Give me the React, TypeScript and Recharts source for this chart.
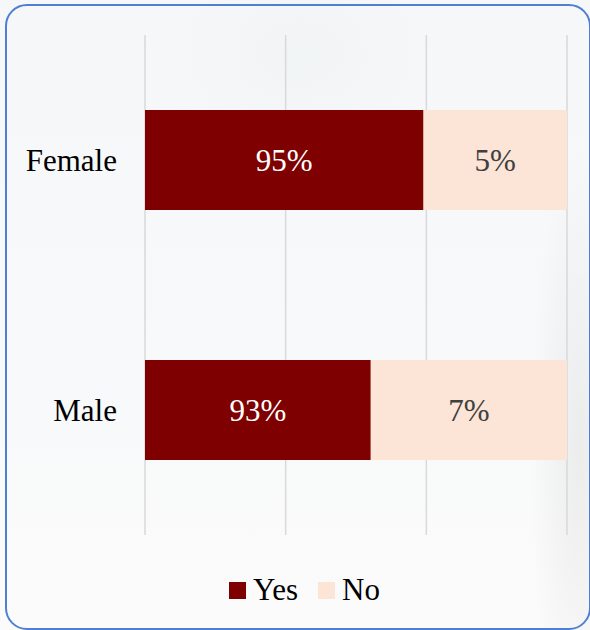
import React from 'react';
import { BarChart, Bar, XAxis, YAxis, CartesianGrid, LabelList } from 'recharts';

// categories and values (bar lengths, labels as printed)
const categories = ['Female', 'Male'];
const yesShare = [0.66, 0.535];
const noShare = [0.34, 0.465];
const yesLabels = ['95%', '93%'];
const noLabels = ['5%', '7%'];
const gridTicks = [0, 0.3333, 0.6667, 1];

const YES_COLOR = '#7F0000';
const NO_COLOR = '#FCE4D6';
const FONT = '"Liberation Serif", "Times New Roman", serif';

const chartData = categories.map((name, i) => ({
  name,
  yes: yesShare[i],
  no: noShare[i],
  yesLabel: yesLabels[i],
  noLabel: noLabels[i],
}));

function LegendBox() {
  const items = [
    { label: 'Yes', color: YES_COLOR },
    { label: 'No', color: NO_COLOR },
  ];
  return (
    <div
      style={{
        position: 'absolute',
        top: 573,
        left: 229,
        display: 'flex',
        alignItems: 'center',
        fontFamily: FONT,
      }}
    >
      {items.map((it, i) => (
        <div key={it.label} style={{ display: 'flex', alignItems: 'center', marginRight: i === 0 ? 20 : 0 }}>
          <span style={{ display: 'inline-block', width: 17, height: 17, background: it.color, marginRight: 7 }} />
          <span style={{ fontSize: 31, color: '#000', lineHeight: '34px' }}>{it.label}</span>
        </div>
      ))}
    </div>
  );
}

export default function App() {
  return (
    <div
      style={{
        position: 'absolute',
        left: 0,
        top: 0,
        width: 590,
        height: 630,
        overflow: 'hidden',
        background:
          'radial-gradient(ellipse 50px 300px at 580px 450px, rgba(205,205,205,0.3), rgba(255,255,255,0) 100%), ' +
          'radial-gradient(ellipse 140px 110px at 300px 60px, rgba(225,232,228,0.2), rgba(255,255,255,0) 100%), ' +
          'linear-gradient(180deg, #f5f7f9 0%, #f8f9fa 60%, #fbfbfb 100%)',
      }}
    >
      <div
        style={{
          position: 'absolute',
          left: 5,
          top: 4,
          width: 586,
          height: 626,
          border: '2px solid #4f7fd2',
          borderRadius: 22,
          boxSizing: 'border-box',
        }}
      />
      <div style={{ position: 'absolute', left: 0, top: 0 }}>
        <BarChart
          width={590}
          height={630}
          data={chartData}
          layout="vertical"
          margin={{ top: 35, right: 23, bottom: 95, left: 0 }}
          barCategoryGap="30%"
        >
          <CartesianGrid horizontal={false} stroke="#d9d9d9" strokeWidth={1.5} />
          <XAxis
            type="number"
            domain={[0, 1]}
            ticks={gridTicks}
            height={0}
            tick={{ fontSize: 1, fill: 'none' }}
            axisLine={false}
            tickLine={false}
            interval={0}
          />
          <YAxis
            type="category"
            dataKey="name"
            width={145}
            axisLine={false}
            tickLine={false}
            tickSize={0}
            tickMargin={28}
            tick={{ fill: '#000', fontSize: 31, fontFamily: FONT }}
          />
          <Bar dataKey="yes" stackId="a" fill={YES_COLOR} isAnimationActive={false}>
            <LabelList dataKey="yesLabel" position="center" fill="#fff" fontSize={31} fontFamily={FONT} />
          </Bar>
          <Bar dataKey="no" stackId="a" fill={NO_COLOR} isAnimationActive={false}>
            <LabelList dataKey="noLabel" position="center" fill="#404040" fontSize={31} fontFamily={FONT} />
          </Bar>
        </BarChart>
      </div>
      <LegendBox />
    </div>
  );
}
